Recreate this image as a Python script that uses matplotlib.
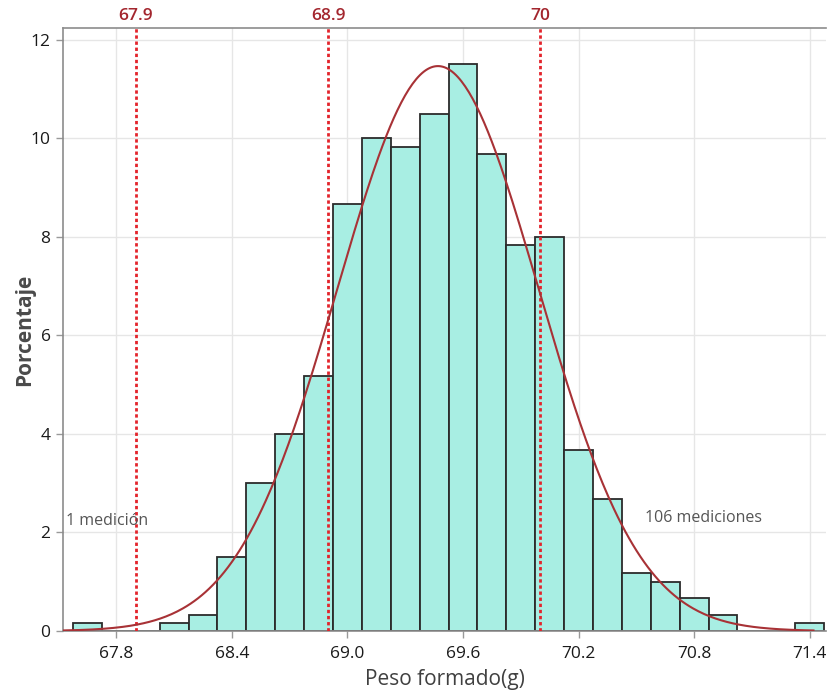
import numpy as np
import matplotlib
matplotlib.use("Agg")
import matplotlib.pyplot as plt

# ---------------- data ----------------
bin_centers = [67.65, 67.80, 67.95, 68.10, 68.25, 68.40, 68.55, 68.70, 68.85,
               69.00, 69.15, 69.30, 69.45, 69.60, 69.75, 69.90, 70.05, 70.20,
               70.35, 70.50, 70.65, 70.80, 70.95, 71.10, 71.25, 71.40]
percent = [0.17, 0.0, 0.0, 0.17, 0.33, 1.50, 3.00, 4.00, 5.17,
           8.67, 10.00, 9.83, 10.50, 11.50, 9.67, 7.83, 8.00, 3.67,
           2.67, 1.17, 1.00, 0.67, 0.33, 0.0, 0.0, 0.17]
bin_width = 0.15
curve_mean = 69.47
curve_sd = 0.522
curve_range = (67.52, 71.42)
ref_lines = [67.9, 68.9, 70.0]
ref_labels = ["67.9", "68.9", "70"]
x_ticks = [67.8, 68.4, 69.0, 69.6, 70.2, 70.8, 71.4]
x_tick_labels = ["67.8", "68.4", "69.0", "69.6", "70.2", "70.8", "71.4"]
y_ticks = [0, 2, 4, 6, 8, 10, 12]
notes = [("1 medición", 67.54, 2.23), ("106 mediciones", 70.545, 2.29)]
x_label = "Peso formado(g)"
y_label = "Porcentaje"

plt.rcParams["font.family"] = ["Open Sans", "DejaVu Sans"]

fig = plt.figure(figsize=(8.28, 6.96), dpi=100)
ax = fig.add_axes([0.0761, 0.0934, 0.9215, 0.8666])

# grid
ax.set_axisbelow(True)
ax.grid(True, color="#e6e6e6", linewidth=1.0)

# bars
ax.bar(bin_centers, percent, width=bin_width, color="#a8eee3",
       edgecolor="#2b2b2b", linewidth=1.3, align="center", zorder=2)

# fitted normal curve
xs = np.linspace(curve_range[0], curve_range[1], 400)
ys = 100 * bin_width * np.exp(-0.5 * ((xs - curve_mean) / curve_sd) ** 2) / (curve_sd * np.sqrt(2 * np.pi))
ax.plot(xs, ys, color="#a83236", linewidth=1.5, zorder=4)

# reference lines
for v, lab in zip(ref_lines, ref_labels):
    ax.axvline(v, color="#e3242b", linestyle=(0, (1.2, 1.0)), linewidth=2.0, zorder=3)
    ax.text(v, 1.006, lab, transform=ax.get_xaxis_transform(), ha="center", va="bottom",
            color="#a3262e", fontsize=12.5, fontweight="semibold")

# notes
for txt, x, y in notes:
    ax.text(x, y, txt, color="#555555", fontsize=11.5, ha="left", va="center", zorder=5)

ax.set_xlim(67.523, 71.485)
ax.set_ylim(0, 12.24)
ax.set_xticks(x_ticks)
ax.set_xticklabels(x_tick_labels)
ax.set_yticks(y_ticks)

ax.tick_params(axis="both", direction="out", length=5, width=1, color="#999999",
               labelsize=12.5, labelcolor="#1a1a1a")
ax.tick_params(axis="x", pad=6)
ax.tick_params(axis="y", pad=4)

for s in ["left", "bottom", "top"]:
    ax.spines[s].set_color("#8c8c8c")
    ax.spines[s].set_linewidth(1.2)
ax.spines["right"].set_visible(False)

ax.set_xlabel(x_label, fontsize=15, color="#404040")
ax.xaxis.label.set_va("center")
ax.xaxis.set_label_coords(0.5, -0.081)
ax.set_ylabel(y_label, fontsize=15, color="#4a4a4a", fontweight="bold")
ax.yaxis.label.set_va("center")
ax.yaxis.set_label_coords(-0.05, 0.5)

fig.savefig("out.png", dpi=100)
